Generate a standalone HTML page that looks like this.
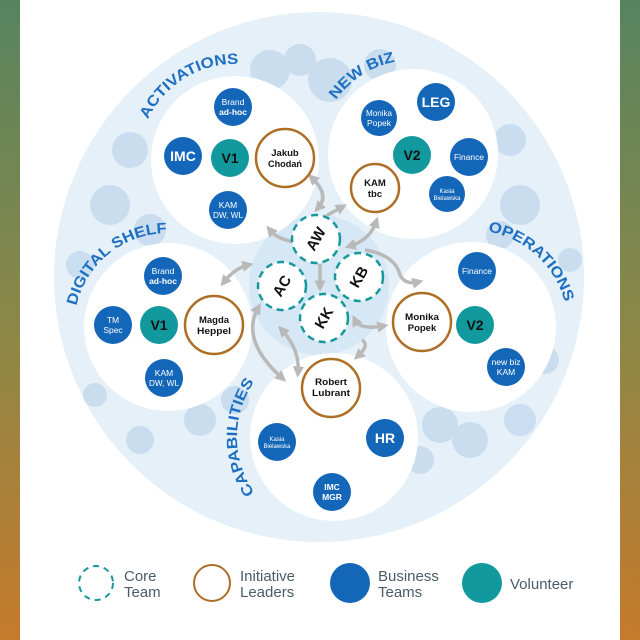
<!DOCTYPE html>
<html><head><meta charset="utf-8"><style>
html,body{margin:0;padding:0;width:640px;height:640px;overflow:hidden}
body{background:linear-gradient(#57845f,#8a8848 50%,#c67a2c)}
svg{position:absolute;left:0;top:0}
.n{font-family:"Liberation Sans Narrow","Liberation Sans",sans-serif;font-weight:bold;text-anchor:middle}
.w{fill:#fff}.k{fill:#111}
.lab{font-family:"Liberation Sans",sans-serif;font-weight:bold;fill:#1d6fc2;font-size:15px}
.lg{font-family:"Liberation Sans",sans-serif;fill:#4b5b68;font-size:15px}
</style></head><body>
<svg width="640" height="640" viewBox="0 0 640 640">
<defs>
<marker id="ah" markerWidth="3.2" markerHeight="3.2" refX="1.6" refY="1.6" orient="auto-start-reverse" markerUnits="strokeWidth"><path d="M0,0 L3.2,1.6 L0,3.2 z" fill="#b9b9b9"/></marker>
<path id="p1" d="M148,119.4 A96,96 0 0 1 259.8,67.3"/>
<path id="p2" d="M336,100 A94,94 0 0 1 421,60.4"/>
<path id="p3" d="M76.4,305.8 A94,94 0 0 1 176.2,233.4"/>
<path id="p4" d="M487.9,231.5 A97,97 0 0 1 566.5,310.2"/>
<path id="p5" d="M254.6,492.7 A97,97 0 0 1 257.6,377.2"/>
</defs>
<rect x="20" y="0" width="600" height="640" fill="#fff"/>
<circle cx="319" cy="277" r="265" fill="#e5f0f8"/>
<g fill="#c6dcef" opacity="0.9">
<circle cx="270" cy="70" r="20"/><circle cx="330" cy="80" r="22"/><circle cx="300" cy="60" r="16"/>
<circle cx="130" cy="150" r="18"/><circle cx="110" cy="205" r="20"/><circle cx="150" cy="230" r="16"/>
<circle cx="80" cy="265" r="14"/><circle cx="510" cy="140" r="16"/><circle cx="520" cy="205" r="20"/>
<circle cx="500" cy="235" r="14"/><circle cx="440" cy="425" r="18"/><circle cx="470" cy="440" r="18"/>
<circle cx="200" cy="420" r="16"/><circle cx="235" cy="400" r="14"/><circle cx="420" cy="460" r="14"/>
<circle cx="570" cy="260" r="12"/><circle cx="95" cy="395" r="12"/><circle cx="545" cy="360" r="14"/>
<circle cx="520" cy="420" r="16"/><circle cx="140" cy="440" r="14"/><circle cx="380" cy="65" r="16"/>
</g>
<circle cx="319" cy="285" r="70" fill="#d6e7f5"/>
<g fill="#fff">
<circle cx="235" cy="160" r="84"/><circle cx="413" cy="154" r="85"/>
<circle cx="168" cy="327" r="84"/><circle cx="471" cy="327" r="85"/>
<circle cx="334" cy="437" r="84"/>
</g>
<text class="lab"><textPath href="#p1" textLength="112" lengthAdjust="spacingAndGlyphs">ACTIVATIONS</textPath></text>
<text class="lab"><textPath href="#p2" textLength="72" lengthAdjust="spacingAndGlyphs">NEW BIZ</textPath></text>
<text class="lab"><textPath href="#p3" textLength="125" lengthAdjust="spacingAndGlyphs">DIGITAL SHELF</textPath></text>
<text class="lab"><textPath href="#p4" textLength="110" lengthAdjust="spacingAndGlyphs">OPERATIONS</textPath></text>
<text class="lab"><textPath href="#p5" textLength="118" lengthAdjust="spacingAndGlyphs">CAPABILITIES</textPath></text>
<g fill="none" stroke="#b9b9b9" stroke-width="3.5">
<path d="M312,178 Q330,195 318,208" marker-start="url(#ah)" marker-end="url(#ah)"/>
<path d="M326,216 L342,207" marker-end="url(#ah)"/>
<path d="M296,242 Q278,240 270,230" marker-end="url(#ah)"/>
<path d="M350,246 Q370,240 376,222" marker-start="url(#ah)" marker-end="url(#ah)"/>
<path d="M365,250 Q395,255 400,275 Q405,285 418,282" marker-end="url(#ah)"/>
<path d="M248,265 Q235,268 224,282" marker-start="url(#ah)" marker-end="url(#ah)"/>
<path d="M320,264 L320,286" marker-end="url(#ah)"/>
<path d="M355,320 Q360,330 383,326" marker-start="url(#ah)" marker-end="url(#ah)"/>
<path d="M362,340 Q370,345 358,356" marker-end="url(#ah)"/>
<path d="M258,308 Q240,340 282,378" marker-start="url(#ah)" marker-end="url(#ah)"/>
<path d="M282,330 Q300,350 298,372" marker-start="url(#ah)" marker-end="url(#ah)"/>
</g>
<g fill="#fff" stroke="#17989b" stroke-width="2.5" stroke-dasharray="7,5">
<circle cx="316" cy="239" r="24"/><circle cx="282" cy="286" r="24"/>
<circle cx="359" cy="277" r="24"/><circle cx="324" cy="318" r="24"/>
</g>
<g class="n k" font-size="15">
<text transform="translate(316,239) rotate(-60)" y="5">AW</text>
<text transform="translate(282,286) rotate(-60)" y="5">AC</text>
<text transform="translate(359,277) rotate(-60)" y="5">KB</text>
<text transform="translate(324,318) rotate(-60)" y="5">KK</text>
</g>
<g fill="#1467b8">
<circle cx="233" cy="107" r="19"/><circle cx="183" cy="156" r="19"/><circle cx="228" cy="210" r="19"/>
<circle cx="379" cy="118" r="18"/><circle cx="436" cy="102" r="19"/><circle cx="469" cy="157" r="19"/><circle cx="447" cy="194" r="18"/>
<circle cx="163" cy="276" r="19"/><circle cx="113" cy="325" r="19"/><circle cx="164" cy="378" r="19"/>
<circle cx="477" cy="271" r="19"/><circle cx="506" cy="367" r="19"/>
<circle cx="277" cy="442" r="19"/><circle cx="385" cy="438" r="19"/><circle cx="332" cy="492" r="19"/>
</g>
<g fill="#11999d">
<circle cx="230" cy="158" r="19"/><circle cx="412" cy="155" r="19"/><circle cx="159" cy="325" r="19"/><circle cx="475" cy="325" r="19"/>
</g>
<g fill="#fff" stroke="#ad6e25" stroke-width="2.5">
<circle cx="285" cy="158" r="29"/><circle cx="375" cy="188" r="24"/><circle cx="214" cy="325" r="29"/>
<circle cx="422" cy="322" r="29"/><circle cx="331" cy="388" r="29"/>
</g>
<g class="n w" font-size="8.5">
<text x="233" y="105" font-weight="normal">Brand</text><text x="233" y="115">ad-hoc</text>
<text x="183" y="161" font-size="14">IMC</text>
<text x="228" y="208" font-weight="normal">KAM</text><text x="228" y="218" font-weight="normal" textLength="30" lengthAdjust="spacingAndGlyphs">DW, WL</text>
<text x="379" y="116" font-weight="normal" textLength="26" lengthAdjust="spacingAndGlyphs">Monika</text><text x="379" y="126" font-weight="normal">Popek</text>
<text x="436" y="107" font-size="14">LEG</text>
<text x="469" y="160" font-weight="normal" textLength="30" lengthAdjust="spacingAndGlyphs">Finance</text>
<text x="447" y="193" font-size="6" font-weight="normal">Kasia</text><text x="447" y="200" font-size="6" font-weight="normal" textLength="27" lengthAdjust="spacingAndGlyphs">Bielawska</text>
<text x="163" y="274" font-weight="normal">Brand</text><text x="163" y="284">ad-hoc</text>
<text x="113" y="323" font-weight="normal">TM</text><text x="113" y="333" font-weight="normal">Spec</text>
<text x="164" y="376" font-weight="normal">KAM</text><text x="164" y="386" font-weight="normal" textLength="30" lengthAdjust="spacingAndGlyphs">DW, WL</text>
<text x="477" y="274" font-weight="normal" textLength="30" lengthAdjust="spacingAndGlyphs">Finance</text>
<text x="506" y="365" font-weight="normal" textLength="29" lengthAdjust="spacingAndGlyphs">new biz</text><text x="506" y="375" font-weight="normal">KAM</text>
<text x="277" y="441" font-size="6" font-weight="normal">Kasia</text><text x="277" y="448" font-size="6" font-weight="normal" textLength="27" lengthAdjust="spacingAndGlyphs">Bielawska</text>
<text x="385" y="443" font-size="14">HR</text>
<text x="332" y="490">IMC</text><text x="332" y="500">MGR</text>
<text x="230" y="163" font-size="14" fill="#111">V1</text>
<text x="412" y="160" font-size="14" fill="#111">V2</text>
<text x="159" y="330" font-size="14" fill="#111">V1</text>
<text x="475" y="330" font-size="14" fill="#111">V2</text>
</g>
<g class="n k" font-size="9.5">
<text x="285" y="156">Jakub</text><text x="285" y="167" textLength="34" lengthAdjust="spacingAndGlyphs">Chodań</text>
<text x="375" y="186">KAM</text><text x="375" y="197">tbc</text>
<text x="214" y="323">Magda</text><text x="214" y="334" textLength="34" lengthAdjust="spacingAndGlyphs">Heppel</text>
<text x="422" y="320" textLength="34" lengthAdjust="spacingAndGlyphs">Monika</text><text x="422" y="331">Popek</text>
<text x="331" y="385" textLength="32" lengthAdjust="spacingAndGlyphs">Robert</text><text x="331" y="396" textLength="38" lengthAdjust="spacingAndGlyphs">Lubrant</text>
</g>
<circle cx="96" cy="583" r="17" fill="none" stroke="#17989b" stroke-width="2" stroke-dasharray="6,5"/>
<text class="lg" x="124" y="581">Core</text><text class="lg" x="124" y="597">Team</text>
<circle cx="212" cy="583" r="18" fill="none" stroke="#ad6e25" stroke-width="2"/>
<text class="lg" x="240" y="581">Initiative</text><text class="lg" x="240" y="597">Leaders</text>
<circle cx="350" cy="583" r="20" fill="#1467b8"/>
<text class="lg" x="378" y="581">Business</text><text class="lg" x="378" y="597">Teams</text>
<circle cx="482" cy="583" r="20" fill="#11999d"/>
<text class="lg" x="510" y="589">Volunteer</text>
</svg>
</body></html>
